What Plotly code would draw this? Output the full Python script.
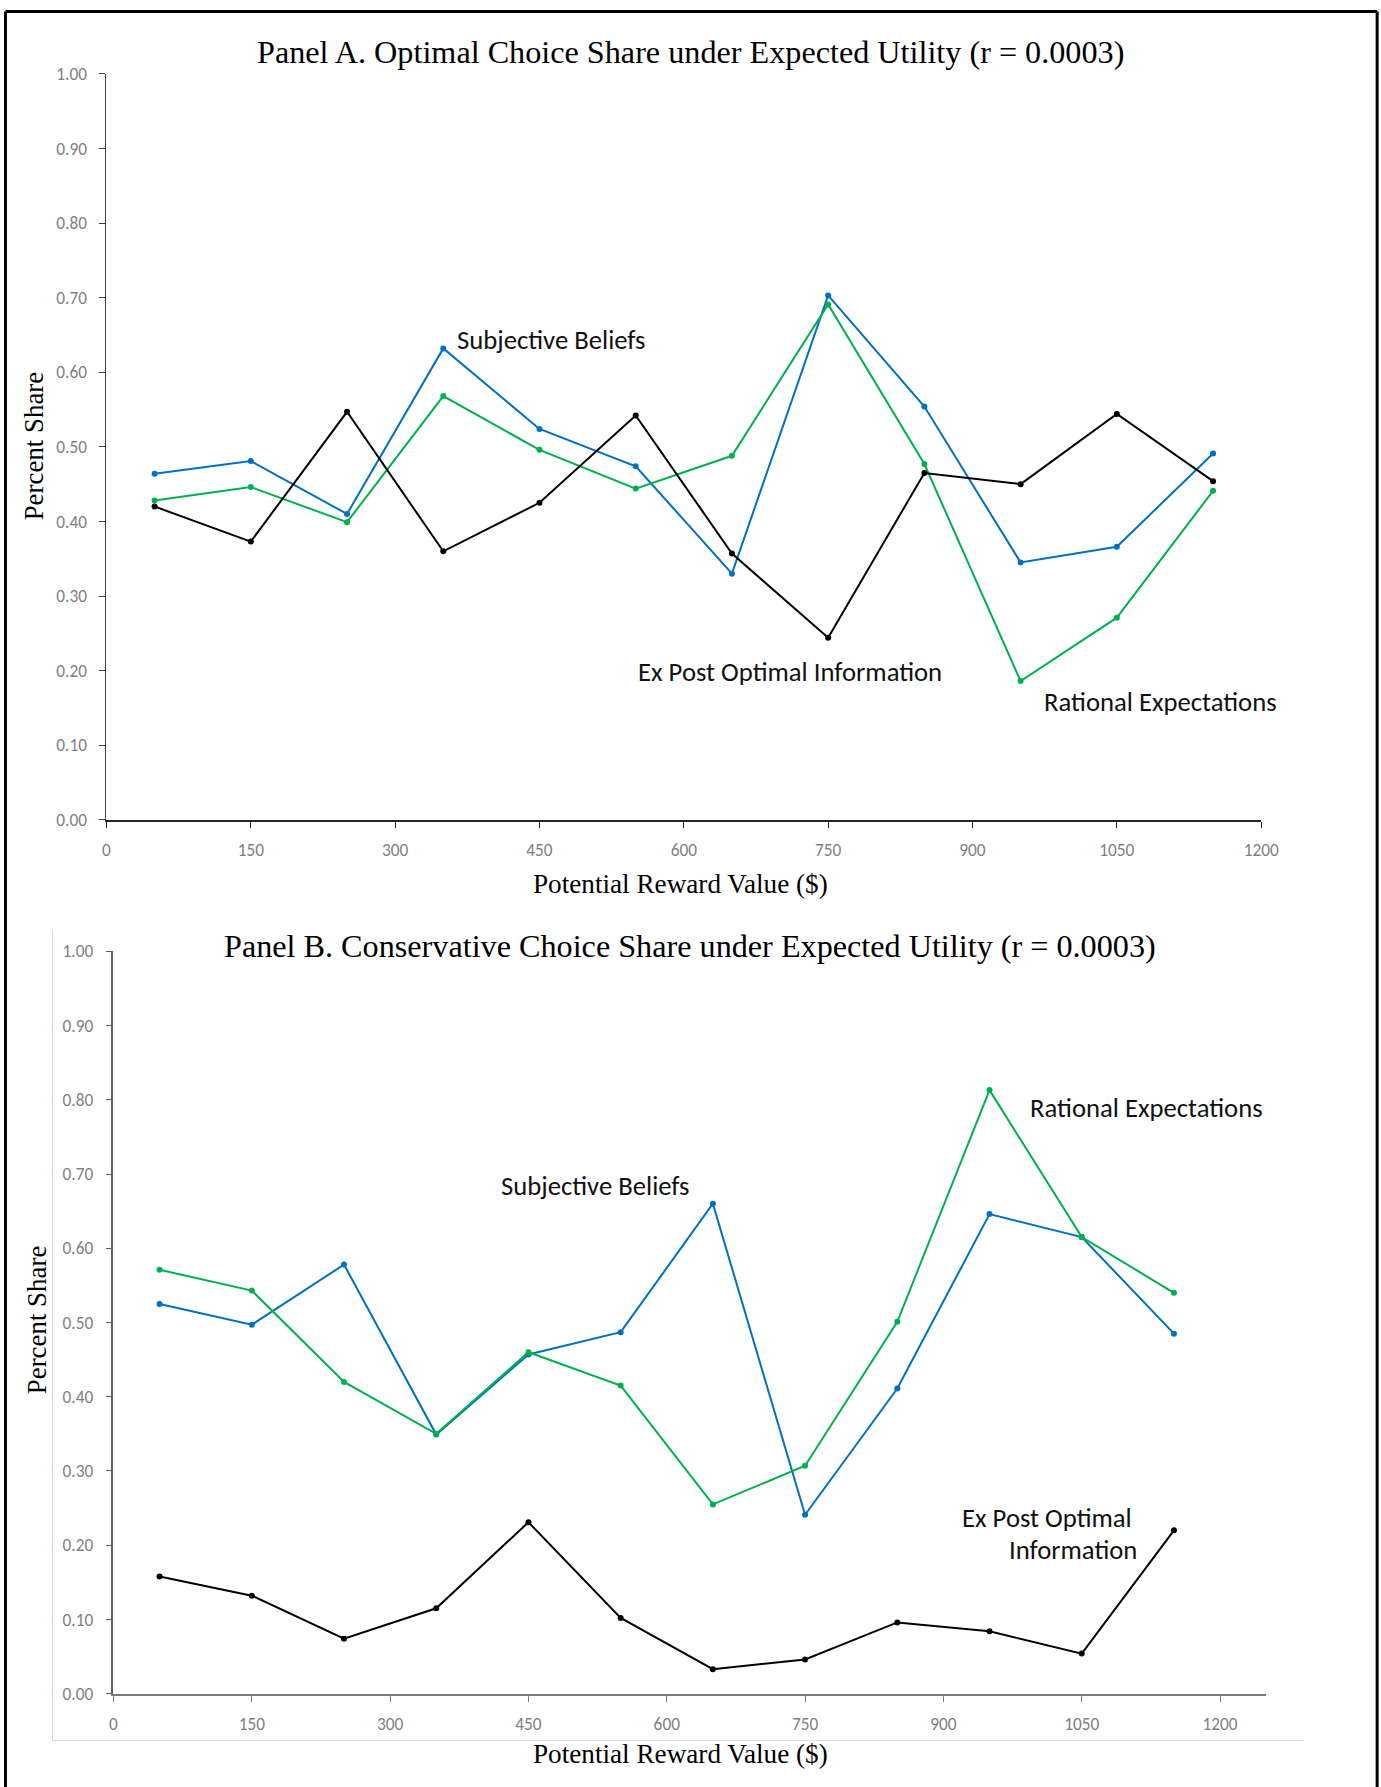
import plotly.graph_objects as go

# Figure size in pixels
W, H = 1396, 1792

# Layout positions below are given in target-image pixels and mapped onto the
# figure through this fixed scale/offset
SX, OX = 0.9845, 3.5
SY, OY = 0.9884, 10.1

# Reward levels (x) shared by both panels
reward = [50, 150, 250, 350, 450, 550, 650, 750, 850, 950, 1050, 1150]

# Panel A: optimal choice share
a_subjective = [0.464, 0.481, 0.410, 0.632, 0.524, 0.474, 0.330, 0.703, 0.554, 0.345, 0.366, 0.491]
a_rational = [0.428, 0.446, 0.399, 0.568, 0.496, 0.444, 0.488, 0.691, 0.477, 0.186, 0.271, 0.441]
a_expost = [0.420, 0.373, 0.547, 0.360, 0.425, 0.542, 0.357, 0.244, 0.465, 0.450, 0.544, 0.454]

# Panel B: conservative choice share
b_subjective = [0.525, 0.497, 0.578, 0.349, 0.457, 0.487, 0.660, 0.241, 0.411, 0.646, 0.615, 0.485]
b_rational = [0.571, 0.543, 0.420, 0.350, 0.460, 0.415, 0.255, 0.307, 0.501, 0.813, 0.615, 0.540]
b_expost = [0.158, 0.132, 0.074, 0.115, 0.231, 0.102, 0.033, 0.046, 0.096, 0.084, 0.054, 0.220]

x_ticks = [0, 150, 300, 450, 600, 750, 900, 1050, 1200]
y_ticks = [0.0, 0.1, 0.2, 0.3, 0.4, 0.5, 0.6, 0.7, 0.8, 0.9, 1.0]

title_a = "Panel A. Optimal Choice Share under Expected Utility (r = 0.0003)"
title_b = "Panel B. Conservative Choice Share under Expected Utility (r = 0.0003)"
x_title = "Potential Reward Value ($)"
y_title = "Percent Share"

BLUE = "#0070C0"
GREEN = "#00B050"
BLACK = "#000000"

SERIF = "Liberation Serif, Times New Roman, serif"
SANS = "Carlito, Calibri, Lato, sans-serif"


def fx(p):
    return ((p - OX) / SX) / W


def fy(p):
    return 1 - ((p - OY) / SY) / H


fig = go.Figure()

series = [
    ("x", "y", a_subjective, BLUE),
    ("x", "y", a_rational, GREEN),
    ("x", "y", a_expost, BLACK),
    ("x2", "y2", b_subjective, BLUE),
    ("x2", "y2", b_rational, GREEN),
    ("x2", "y2", b_expost, BLACK),
]
for xa, ya, vals, col in series:
    fig.add_trace(go.Scatter(
        x=reward, y=vals, xaxis=xa, yaxis=ya, mode="lines+markers",
        line=dict(color=col, width=2), marker=dict(color=col, size=6),
        showlegend=False, hoverinfo="skip",
    ))

tick_font = dict(family=SANS, size=17.3, color="#7f7f7f")

common_x = dict(tickmode="array", tickvals=x_ticks, ticks="outside", ticklen=6,
                showgrid=False, zeroline=False, showline=True, tickfont=tick_font,
                ticklabelstandoff=8, fixedrange=True)
common_y = dict(tickmode="array", tickvals=y_ticks, tickformat=".2f", ticks="outside",
                ticklen=6, showgrid=False, zeroline=False, showline=True,
                tickfont=tick_font, ticklabelstandoff=9, fixedrange=True)

fig.update_layout(
    width=W, height=H, margin=dict(l=0, r=0, t=0, b=0),
    paper_bgcolor="white", plot_bgcolor="rgba(0,0,0,0)",
    xaxis=dict(common_x, domain=[fx(106), fx(1261)], range=[0, 1200], anchor="y",
               linecolor="#262626", linewidth=1.5, tickcolor="#262626", tickwidth=1.2),
    yaxis=dict(common_y, domain=[fy(820), fy(74)], range=[0, 1], anchor="x",
               linecolor="#404040", linewidth=1, tickcolor="#404040", tickwidth=1),
    xaxis2=dict(common_x, domain=[fx(113), fx(1266)], range=[0, 1250], anchor="y2",
                linecolor="#7a7a7a", linewidth=1.8, tickcolor="#7a7a7a", tickwidth=1.2),
    yaxis2=dict(common_y, domain=[fy(1694), fy(951.5)], range=[0, 1], anchor="x2",
                linecolor="#5f5f5f", linewidth=1.5, tickcolor="#5f5f5f", tickwidth=1.2),
)

# Outer frame (open at the bottom) and the light chart-area frame of Panel B
top = max(7, OY + 1.5 * SY)
frame = [
    (5, top, 5, 1800, BLACK, 3),
    (5, top, 1377, top, BLACK, 3),
    (1377, top, 1377, 1800, BLACK, 3),
    (52, 931, 52, 1741, "#d9d9d9", 1),
    (52, 1741, 1304, 1741, "#d9d9d9", 1),
]
for x0, y0, x1, y1, col, w in frame:
    fig.add_shape(type="line", xref="paper", yref="paper",
                  x0=fx(x0), y0=fy(y0), x1=fx(x1), y1=fy(y1),
                  line=dict(color=col, width=w))

# Panel and axis titles
titles = [
    (title_a, 690, 52, 32.2, 0),
    (title_b, 690, 946, 32.2, 0),
    (x_title, 680, 884, 27.2, 0),
    (x_title, 680, 1754, 27.2, 0),
    (y_title, 33, 446, 26.9, -90),
    (y_title, 36, 1320, 26.9, -90),
]
for text, px, py, size, ang in titles:
    fig.add_annotation(text=text, xref="paper", yref="paper", x=fx(px), y=fy(py),
                       xanchor="center", yanchor="middle", showarrow=False,
                       textangle=ang, font=dict(family=SERIF, size=size, color="black"))

# Series labels placed in data coordinates
labels = [
    ("Subjective Beliefs", "x", "y", 362, 0.643, "left"),
    ("Ex Post Optimal Information", "x", "y", 550, 0.198, "left"),
    ("Rational Expectations", "x", "y", 972, 0.158, "left"),
    ("Subjective Beliefs", "x2", "y2", 418, 0.684, "left"),
    ("Rational Expectations", "x2", "y2", 992, 0.789, "left"),
    ("Ex Post Optimal", "x2", "y2", 1107, 0.236, "right"),
    ("Information", "x2", "y2", 1112, 0.194, "right"),
]
for text, xr, yr, xv, yv, anchor in labels:
    fig.add_annotation(text=text, xref=xr, yref=yr, x=xv, y=yv, xanchor=anchor,
                       yanchor="middle", align=anchor, showarrow=False,
                       font=dict(family=SANS, size=26.7, color="#111111"))

fig.write_html("out.html")
